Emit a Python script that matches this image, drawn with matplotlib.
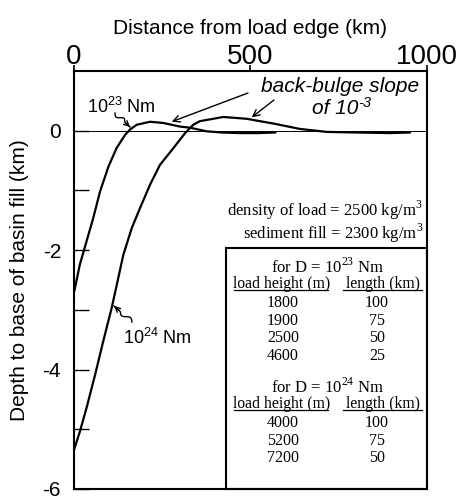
import matplotlib
matplotlib.use("Agg")
import numpy as np
import matplotlib.pyplot as plt
from matplotlib.ticker import FixedLocator
from matplotlib.patches import Rectangle

plt.rcParams['axes.unicode_minus'] = False
SANS = ['Liberation Sans', 'DejaVu Sans']
SERIF = ['Liberation Serif', 'DejaVu Serif']

# Flexural profile, D = 1e23 Nm
x23 = [0, 18, 37, 56, 75, 99, 122, 146, 160, 179, 217, 254, 301, 330, 377, 420, 471, 520, 572]
y23 = [-2.75, -2.24, -1.85, -1.46, -1.02, -0.60, -0.29, -0.07, 0.02, 0.10, 0.15, 0.13,
       0.07, 0.05, -0.01, -0.03, -0.04, -0.04, -0.03]
# Flexural profile, D = 1e24 Nm
x24 = [0, 18, 37, 61, 84, 108, 120, 141, 165, 188, 217, 245, 283, 316, 339, 358, 377,
       424, 490, 566, 641, 717, 802, 896, 953]
y24 = [-5.37, -5.04, -4.64, -4.09, -3.53, -2.97, -2.65, -2.08, -1.63, -1.30, -0.90, -0.57,
       -0.29, -0.04, 0.10, 0.16, 0.18, 0.23, 0.20, 0.12, 0.03, -0.02, -0.03, -0.04, -0.03]

xticks = [0, 500, 1000]
yticks = [0, -2, -4, -6]
yminor = [-1, -3, -5]

table23_h = ['1800', '1900', '2500', '4600']
table23_l = ['100', '75', '50', '25']
table24_h = ['4000', '5200', '7200']
table24_l = ['100', '75', '50']

W, H = 459, 496
fig = plt.figure(figsize=(W / 100, H / 100), dpi=100)
ax = fig.add_axes([73.5 / W, 1 - 489 / H, (426.7 - 73.5) / W, (489 - 71) / H])


def fx(x):
    return x / W


def fy(y):
    return 1 - y / H


ax.plot(x23, y23, color='black', lw=1.6, solid_joinstyle='round', solid_capstyle='round')
ax.plot(x24, y24, color='black', lw=1.6, solid_joinstyle='round', solid_capstyle='round')
ax.axhline(0, color='black', lw=0.7)

ax.set_xlim(0, 1000)
ax.set_ylim(-6, 1)
ax.xaxis.tick_top()
ax.xaxis.set_label_position('top')
ax.set_xticks(xticks)
ax.set_xticklabels([str(t) for t in xticks], fontsize=20, family=SANS)
ax.tick_params(axis='x', direction='out', length=4, width=1.2, pad=-3)
ax.yaxis.set_major_locator(FixedLocator(yticks))
ax.yaxis.set_minor_locator(FixedLocator(yminor))
ax.set_yticklabels([str(t) for t in yticks], fontsize=15, family=SANS)
ax.tick_params(axis='y', which='both', direction='in', length=11, width=1.0, pad=9)
for s in ax.spines.values():
    s.set_linewidth(1.5)

ax.set_xlabel('Distance from load edge (km)', fontsize=15, family=SANS, labelpad=7)
ax.set_ylabel('Depth to base of basin fill (km)', fontsize=15, family=SANS)
ax.yaxis.set_label_coords((29 - 73.5) / (426.7 - 73.5), 0.5)


def squiggle(tail, tip, amp=2.2, waves=1.5):
    tx, ty = tail
    px, py = tip
    n = 60
    t = np.linspace(0, 1, n)
    dx, dy = px - tx, py - ty
    L = np.hypot(dx, dy)
    nx, ny = -dy / L, dx / L
    off = amp * np.sin(2 * np.pi * waves * t) * np.clip((0.75 - t) / 0.2, 0, 1)
    xs = tx + dx * t + nx * off
    ys = ty + dy * t + ny * off
    fig.add_artist(plt.Line2D(fx(xs), fy(ys), color='black', lw=1.0))
    ax.annotate('', xy=(fx(px), fy(py)), xycoords='figure fraction',
                xytext=(fx(tx + dx * 0.7), fy(ty + dy * 0.7)), textcoords='figure fraction',
                arrowprops=dict(arrowstyle='->', lw=1.0, mutation_scale=9,
                                shrinkA=0, shrinkB=0))


# curve labels
fig.text(fx(121), fy(107), r'10$^{\mathregular{23}}$ Nm', fontsize=13, family=SANS,
         ha='center', va='center')
squiggle((115, 113), (130, 127))
fig.text(fx(157), fy(338), r'10$^{\mathregular{24}}$ Nm', fontsize=13, family=SANS,
         ha='center', va='center')
squiggle((132, 322), (114, 306))

fig.text(fx(340), fy(87), 'back-bulge slope', fontsize=15, family=SANS, style='italic',
         ha='center', va='center')
fig.text(fx(358), fy(108), 'of 10', fontsize=15, family=SANS,
         style='italic', ha='right', va='center')
fig.text(fx(358.5), fy(103), '-3', fontsize=10.5, family=SANS,
         style='italic', ha='left', va='center')
ax.annotate('', xy=(fx(171.7), fy(121.7)), xycoords='figure fraction',
            xytext=(fx(248), fy(93)), textcoords='figure fraction',
            arrowprops=dict(arrowstyle='->', lw=1.0, mutation_scale=12, shrinkA=0, shrinkB=0))
ax.annotate('', xy=(fx(251.7), fy(117.3)), xycoords='figure fraction',
            xytext=(fx(274), fy(100)), textcoords='figure fraction',
            arrowprops=dict(arrowstyle='->', lw=1.0, mutation_scale=12, shrinkA=0, shrinkB=0))

# density text
fig.text(fx(423), fy(210), r'density of load = 2500 kg/m$^{\mathregular{3}}$',
         fontsize=12, family=SERIF, ha='right', va='center')
fig.text(fx(423), fy(233), r'sediment fill = 2300 kg/m$^{\mathregular{3}}$',
         fontsize=12, family=SERIF, ha='right', va='center')

# table box
fig.patches.append(Rectangle((fx(226), fy(489)), (426.7 - 226) / W, (489 - 248) / H,
                             transform=fig.transFigure, fill=False, lw=1.5, ec='black'))


def block(ytitle, dexp, heights, lengths):
    fig.text(fx(328), fy(ytitle), r'for D = 10$^{\mathregular{%s}}$ Nm' % dexp,
             fontsize=12, family=SERIF, ha='center', va='center')
    yh = ytitle + 17
    fig.text(fx(282), fy(yh), 'load height (m)', fontsize=11.3, family=SERIF,
             ha='center', va='center')
    fig.text(fx(383), fy(yh), 'length (km)', fontsize=11.3, family=SERIF,
             ha='center', va='center')
    fig.add_artist(plt.Line2D([fx(234), fx(328)], [fy(yh + 6), fy(yh + 6)], color='black', lw=0.9))
    fig.add_artist(plt.Line2D([fx(343), fx(422)], [fy(yh + 6), fy(yh + 6)], color='black', lw=0.9))
    for i, (h, l) in enumerate(zip(heights, lengths)):
        yy = yh + 19 + 17.6 * i
        fig.text(fx(283), fy(yy), h, fontsize=11.5, family=SERIF, ha='center', va='center')
        fig.text(fx(377), fy(yy), l, fontsize=11.5, family=SERIF, ha='center', va='center')


block(267, '23', table23_h, table23_l)
block(387, '24', table24_h, table24_l)

fig.savefig('out.png', dpi=100)
